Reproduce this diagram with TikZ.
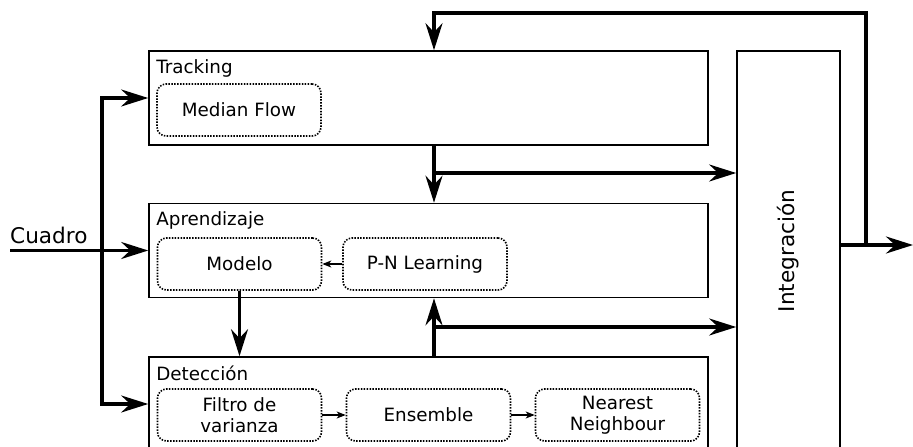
\documentclass[tikz,border=0pt]{standalone}
\usepackage{fontspec}
\setmainfont{DejaVu Sans}
\usetikzlibrary{arrows.meta}

\begin{document}
\begin{tikzpicture}[x=1pt,y=-1pt,
    >={Stealth[length=27pt,width=17pt,inset=9pt]},
    bloque/.style={draw,line width=1.6pt,minimum width=559pt,minimum height=94pt,inner sep=0pt},
    modulo/.style={draw,line width=1.6pt,dash pattern=on 1.5pt off 1.4pt,rounded corners=9pt,
        minimum width=164pt,minimum height=52pt,inner sep=0pt,align=center,
        font=\fontsize{18.3}{21.5}\selectfont},
    titulo/.style={anchor=north west,inner sep=0pt,font=\fontsize{18.3}{21.5}\selectfont},
    flujo/.style={->,line width=3.2pt},
    paso/.style={-{Stealth[length=9pt,width=7pt,inset=2.5pt]},line width=1.3pt}]
    \useasboundingbox (0,0) rectangle (913,447);
    \clip (0,0) rectangle (913,447);
    % bloques
    \node[bloque] (trk) at (428.5,98) {};
    \node[bloque] (apr) at (428.5,250.5) {};
    \node[bloque] (det) at (428.5,404) {};
    \node[bloque,minimum width=103pt,minimum height=400pt] (int) at (788.5,251) {};
    \node[titulo] (trkt) at ([xshift=8pt,yshift=-9pt]trk.north west) {Tracking};
    \node[titulo] (aprt) at ([xshift=8pt,yshift=-9pt]apr.north west) {Aprendizaje};
    \node[titulo] (dett) at ([xshift=8pt,yshift=-9pt]det.north west) {Detección};
    \node[rotate=90,inner sep=0pt,font=\fontsize{21.6}{26}\selectfont] (intt) at (int.center) {Integración};
    % modulos
    \node[modulo] (mf) at (239,110) {Median Flow};
    \node[modulo] (mod) at (239.5,264) {Modelo};
    \node[modulo] (pnl) at (425,264) {P-N Learning};
    \node[modulo] (fil) at (239.5,415) {Filtro de\\varianza};
    \node[modulo] (ens) at (428.5,415) {Ensemble};
    \node[modulo] (nn) at (617.5,415) {Nearest\\Neighbour};
    \foreach \a/\b in {pnl/mod,fil/ens,ens/nn} \draw[paso] (\a) -- (\b);
    % entrada
    \node[anchor=base west,inner sep=0pt,font=\fontsize{21.6}{26}\selectfont] (cuadro) at (10,243) {Cuadro};
    \coordinate (in) at (10,250.5);
    \coordinate (bus) at (102,250.5);
    \draw[flujo] (in) -- (apr.west);
    \draw[flujo] (bus) |- (trk.west);
    \draw[flujo] (bus) |- (det.west);
    % flujo entre bloques
    \coordinate (tx) at (434,0);
    \coordinate (b1) at (434,173);
    \coordinate (b2) at (434,327);
    \draw[flujo] (trk.south -| tx) -- (apr.north -| tx);
    \draw[flujo] (b1) -- (int.west |- b1);
    \draw[flujo] (det.north -| tx) -- (apr.south -| tx);
    \draw[flujo] (b2) -- (int.west |- b2);
    \draw[flujo] (mod.south) -- (det.north -| mod.south);
    % salida y realimentacion
    \coordinate (fb) at (866,245);
    \coordinate (top) at (866,13);
    \coordinate (out) at (913,245);
    \draw[flujo] (int.east |- out) -- (out);
    \draw[flujo] (fb) -- (top) -| (trk.north -| tx);
\end{tikzpicture}
\end{document}
